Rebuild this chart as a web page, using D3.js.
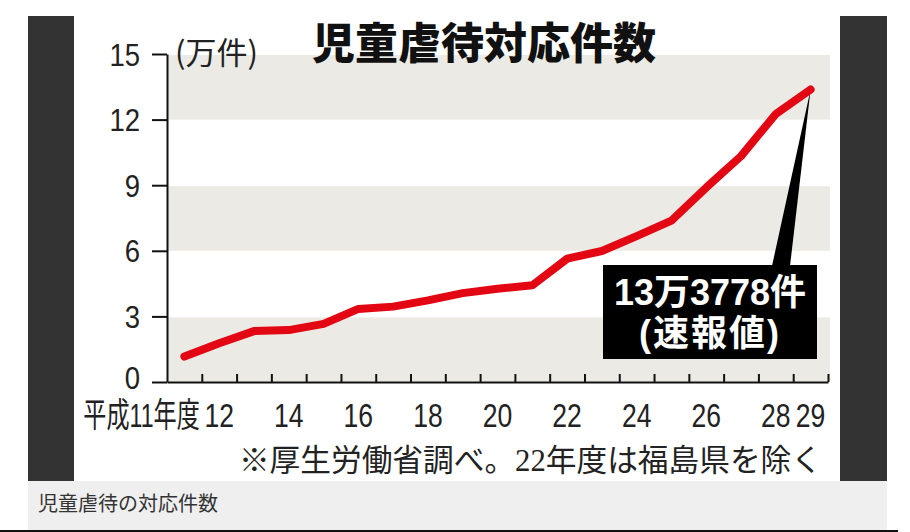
<!DOCTYPE html>
<html><head><meta charset="utf-8">
<script src="https://cdn.jsdelivr.net/npm/d3@7"></script>
<style>body{margin:0;background:#fff;} svg{display:block;}</style>
</head><body><svg id="c" width="910" height="532"></svg>
<script>
const years = [11,12,13,14,15,16,17,18,19,20,21,22,23,24,25,26,27,28,29];
const counts = [1.1631,1.7725,2.3274,2.3738,2.6569,3.3408,3.4472,3.7323,4.0639,4.2664,4.4211,5.6384,5.9919,6.6701,7.3802,8.8931,10.3286,12.2575,13.3778];
const yTicks = [0,3,6,9,12,15];
const shadedBands = [[0,3],[6,9],[12,15]];
const labelYears = [11,12,14,16,18,20,22,24,26,28,29];
const labelTexts = ["平成11年度","12","14","16","18","20","22","24","26","28","29"];
const title = "児童虐待対応件数";
const unitLabel = "(万件)";
const calloutLines = ["13万3778件","(速報値)"];
const note = "※厚生労働省調べ。22年度は福島県を除く";
const caption = "児童虐待の対応件数";

const svg = d3.select("#c");
const sans = "'Liberation Sans','Noto Sans CJK JP',sans-serif";
const cjk = "'Noto Sans CJK JP','Liberation Sans',sans-serif";

// frame
svg.append("rect").attr("x",28).attr("y",16).attr("width",46).attr("height",465).attr("fill","#333");
svg.append("rect").attr("x",840).attr("y",16).attr("width",47).attr("height",465).attr("fill","#333");
svg.append("rect").attr("x",28).attr("y",481).attr("width",859).attr("height",49).attr("fill","#efefef");
svg.append("rect").attr("x",0).attr("y",530).attr("width",898).attr("height",2).attr("fill","#111");

const x = d3.scaleLinear().domain([10.5,29.5]).range([167,828]);
const y = d3.scaleLinear().domain([0,15]).range([382,54]);

// shaded bands
svg.append("g").selectAll("rect").data(shadedBands).join("rect")
  .attr("x",x(10.5)).attr("width",830-x(10.5))
  .attr("y",d=>y(d[1])+1).attr("height",d=>y(d[0])-y(d[1])-1)
  .attr("fill","#ebeae4");

// title
svg.append("text").attr("x",312).attr("y",59).attr("font-family",cjk).attr("font-weight",900)
  .attr("font-size",43).attr("fill","#111").text(title);

// unit
svg.append("text").attr("x",175).attr("y",64).attr("font-family",cjk).attr("font-size",31)
  .attr("fill","#222").text(unitLabel);

// y axis
const ya = svg.append("g").attr("transform","translate(167,0)")
  .call(d3.axisLeft(y).tickValues(yTicks).tickSize(15).tickSizeOuter(0).tickPadding(12));
ya.selectAll("path,line").attr("stroke","#111").attr("stroke-width",2);
ya.selectAll("text").attr("x",0).attr("dy",null)
  .attr("transform",d=>`translate(-27,${d===0?6:11}) scale(0.86,1)`)
  .attr("font-family",sans).attr("font-size",32).attr("fill","#222");

// x axis
const xa = svg.append("g").attr("transform","translate(0,382)")
  .call(d3.axisBottom(x).tickValues(years.map(d=>d+0.5)).tickSize(-8).tickSizeOuter(0).tickFormat(""));
xa.selectAll("path,line").attr("stroke","#111").attr("stroke-width",2);

// x labels
svg.append("g").selectAll("text").data(labelYears).join("text")
  .attr("transform",(d,i)=>i===0? `translate(${x(d+0.5)-2},427) scale(0.68,1)` : `translate(${x(d)},427) scale(0.78,1)`)
  .attr("text-anchor",(d,i)=>i===0?"end":"middle")
  .attr("font-family",sans).attr("font-size",34).attr("fill","#222")
  .text((d,i)=>labelTexts[i]);

// callout wedge
const last = years.length-1;
const tip = [x(years[last]), y(counts[last])];
svg.append("path").attr("d",`M${tip[0]},${tip[1]}L772,266L790,266Z`).attr("fill","#000");

// line
svg.append("path").datum(years.map((yr,i)=>({yr,v:counts[i]})))
  .attr("d",d3.line().x(d=>x(d.yr)).y(d=>y(d.v)))
  .attr("fill","none").attr("stroke","#e30613").attr("stroke-width",8)
  .attr("stroke-linejoin","round").attr("stroke-linecap","round");

// callout box
svg.append("rect").attr("x",603).attr("y",265).attr("width",214).attr("height",94).attr("fill","#000");
svg.append("g").selectAll("text").data(calloutLines).join("text")
  .attr("x",710).attr("y",(d,i)=>i===0?305:346).attr("text-anchor","middle")
  .attr("font-family",sans).attr("font-weight",700).attr("font-size",36).attr("fill","#fff")
  .attr("letter-spacing",(d,i)=>i===0?0:2)
  .text(d=>d);

// note
svg.append("text").attr("x",822).attr("y",471).attr("text-anchor","end")
  .attr("font-family","'Liberation Serif','Noto Sans CJK JP',serif").attr("font-size",30.7).attr("fill","#222")
  .text(note);

// caption
svg.append("text").attr("x",38).attr("y",511).attr("font-family",cjk).attr("font-size",20)
  .attr("fill","#333").text(caption);
</script></body></html>
